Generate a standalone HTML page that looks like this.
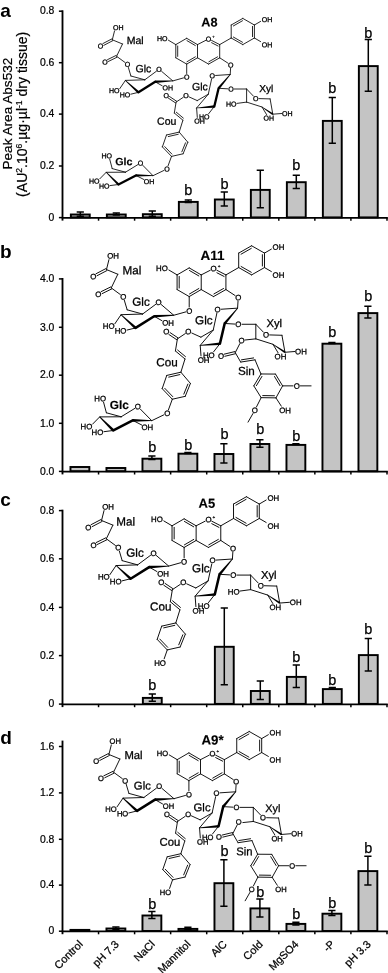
<!DOCTYPE html>
<html><head><meta charset="utf-8"><title>Figure</title><style>html,body{margin:0;padding:0;background:#fff}svg{display:block}</style></head><body>
<svg width="388" height="973" viewBox="0 0 388 973">
<rect width="388" height="973" fill="#fff"/>
<rect x="70.87" y="214.5" width="18.86" height="2.9" fill="#c4c4c4" stroke="#000" stroke-width="1.94"/>
<path d="M80.3 212V216.3M76.7 212H83.9M76.7 216.3H83.9" stroke="#000" stroke-width="1.5" fill="none"/>
<rect x="106.87" y="214.5" width="18.86" height="2.9" fill="#c4c4c4" stroke="#000" stroke-width="1.94"/>
<path d="M116.3 212.9V215M112.7 212.9H119.9M112.7 215H119.9" stroke="#000" stroke-width="1.5" fill="none"/>
<rect x="142.87" y="214.2" width="18.86" height="3.2" fill="#c4c4c4" stroke="#000" stroke-width="1.94"/>
<path d="M152.3 211V216.3M148.7 211H155.9M148.7 216.3H155.9" stroke="#000" stroke-width="1.5" fill="none"/>
<rect x="178.87" y="201.9" width="18.86" height="15.5" fill="#c4c4c4" stroke="#000" stroke-width="1.94"/>
<path d="M188.3 199.9V202.5M184.7 199.9H191.9M184.7 202.5H191.9" stroke="#000" stroke-width="1.5" fill="none"/>
<text x="188.2" y="195" font-size="14.5" text-anchor="middle" stroke="#000" stroke-width="0.25" font-family="Liberation Sans, Arial, Helvetica, sans-serif">b</text>
<rect x="214.87" y="199.5" width="18.86" height="17.9" fill="#c4c4c4" stroke="#000" stroke-width="1.94"/>
<path d="M224.3 192V205.9M220.7 192H227.9M220.7 205.9H227.9" stroke="#000" stroke-width="1.5" fill="none"/>
<text x="224.5" y="188.6" font-size="14.5" text-anchor="middle" stroke="#000" stroke-width="0.25" font-family="Liberation Sans, Arial, Helvetica, sans-serif">b</text>
<rect x="250.87" y="189.9" width="18.86" height="27.5" fill="#c4c4c4" stroke="#000" stroke-width="1.94"/>
<path d="M260.3 170.3V207.7M256.7 170.3H263.9M256.7 207.7H263.9" stroke="#000" stroke-width="1.5" fill="none"/>
<rect x="286.87" y="182.2" width="18.86" height="35.2" fill="#c4c4c4" stroke="#000" stroke-width="1.94"/>
<path d="M296.3 175.3V188.4M292.7 175.3H299.9M292.7 188.4H299.9" stroke="#000" stroke-width="1.5" fill="none"/>
<text x="296.2" y="170.3" font-size="14.5" text-anchor="middle" stroke="#000" stroke-width="0.25" font-family="Liberation Sans, Arial, Helvetica, sans-serif">b</text>
<rect x="322.87" y="120.9" width="18.86" height="96.5" fill="#c4c4c4" stroke="#000" stroke-width="1.94"/>
<path d="M332.3 97.4V143.3M328.7 97.4H335.9M328.7 143.3H335.9" stroke="#000" stroke-width="1.5" fill="none"/>
<text x="332.3" y="92.7" font-size="14.5" text-anchor="middle" stroke="#000" stroke-width="0.25" font-family="Liberation Sans, Arial, Helvetica, sans-serif">b</text>
<rect x="358.87" y="66.1" width="18.86" height="151.3" fill="#c4c4c4" stroke="#000" stroke-width="1.94"/>
<path d="M368.3 39.5V91.3M364.7 39.5H371.9M364.7 91.3H371.9" stroke="#000" stroke-width="1.5" fill="none"/>
<text x="368.4" y="37.6" font-size="14.5" text-anchor="middle" stroke="#000" stroke-width="0.25" font-family="Liberation Sans, Arial, Helvetica, sans-serif">b</text>
<path d="M62.5 10.3V220.6" stroke="#000" stroke-width="1.85" fill="none"/>
<path d="M61.8 217.85H387.8" stroke="#000" stroke-width="1.8" fill="none"/>
<path d="M58.9 11.2H62.5" stroke="#000" stroke-width="1.5"/>
<text x="54.4" y="14.45" font-size="10.4" text-anchor="end" stroke="#000" stroke-width="0.22" font-family="Liberation Sans, Arial, Helvetica, sans-serif">0.8</text>
<path d="M58.9 62.7H62.5" stroke="#000" stroke-width="1.5"/>
<text x="54.4" y="65.95" font-size="10.4" text-anchor="end" stroke="#000" stroke-width="0.22" font-family="Liberation Sans, Arial, Helvetica, sans-serif">0.6</text>
<path d="M58.9 114.1H62.5" stroke="#000" stroke-width="1.5"/>
<text x="54.4" y="117.35" font-size="10.4" text-anchor="end" stroke="#000" stroke-width="0.22" font-family="Liberation Sans, Arial, Helvetica, sans-serif">0.4</text>
<path d="M58.9 166H62.5" stroke="#000" stroke-width="1.5"/>
<text x="54.4" y="169.25" font-size="10.4" text-anchor="end" stroke="#000" stroke-width="0.22" font-family="Liberation Sans, Arial, Helvetica, sans-serif">0.2</text>
<path d="M58.9 217.6H62.5" stroke="#000" stroke-width="1.5"/>
<text x="54.4" y="220.85" font-size="10.4" text-anchor="end" stroke="#000" stroke-width="0.22" font-family="Liberation Sans, Arial, Helvetica, sans-serif">0</text>
<path d="M98.55 217.4V220.7" stroke="#000" stroke-width="1.5"/>
<path d="M134.6 217.4V220.7" stroke="#000" stroke-width="1.5"/>
<path d="M170.65 217.4V220.7" stroke="#000" stroke-width="1.5"/>
<path d="M206.7 217.4V220.7" stroke="#000" stroke-width="1.5"/>
<path d="M242.75 217.4V220.7" stroke="#000" stroke-width="1.5"/>
<path d="M278.8 217.4V220.7" stroke="#000" stroke-width="1.5"/>
<path d="M314.85 217.4V220.7" stroke="#000" stroke-width="1.5"/>
<path d="M350.9 217.4V220.7" stroke="#000" stroke-width="1.5"/>
<path d="M387 217.4V220.7" stroke="#000" stroke-width="1.5"/>
<text x="0.2" y="17.2" font-size="19" font-weight="bold" font-family="Liberation Sans, Arial, Helvetica, sans-serif">a</text>
<rect x="70.47" y="467" width="18.86" height="4.2" fill="#c4c4c4" stroke="#000" stroke-width="1.94"/>
<rect x="106.47" y="468" width="18.86" height="3.2" fill="#c4c4c4" stroke="#000" stroke-width="1.94"/>
<rect x="142.47" y="458.7" width="18.86" height="12.5" fill="#c4c4c4" stroke="#000" stroke-width="1.94"/>
<path d="M151.9 455.9V459.6M148.3 455.9H155.5M148.3 459.6H155.5" stroke="#000" stroke-width="1.5" fill="none"/>
<text x="152.4" y="451.9" font-size="14.5" text-anchor="middle" stroke="#000" stroke-width="0.25" font-family="Liberation Sans, Arial, Helvetica, sans-serif">b</text>
<rect x="178.47" y="453.7" width="18.86" height="17.5" fill="#c4c4c4" stroke="#000" stroke-width="1.94"/>
<path d="M187.9 452.6V453.4M184.3 452.6H191.5M184.3 453.4H191.5" stroke="#000" stroke-width="1.5" fill="none"/>
<text x="188.2" y="450.3" font-size="14.5" text-anchor="middle" stroke="#000" stroke-width="0.25" font-family="Liberation Sans, Arial, Helvetica, sans-serif">b</text>
<rect x="214.47" y="454" width="18.86" height="17.2" fill="#c4c4c4" stroke="#000" stroke-width="1.94"/>
<path d="M223.9 443.7V463M220.3 443.7H227.5M220.3 463H227.5" stroke="#000" stroke-width="1.5" fill="none"/>
<text x="224.5" y="439.4" font-size="14.5" text-anchor="middle" stroke="#000" stroke-width="0.25" font-family="Liberation Sans, Arial, Helvetica, sans-serif">b</text>
<rect x="250.47" y="444" width="18.86" height="27.2" fill="#c4c4c4" stroke="#000" stroke-width="1.94"/>
<path d="M259.9 439.8V447.2M256.3 439.8H263.5M256.3 447.2H263.5" stroke="#000" stroke-width="1.5" fill="none"/>
<text x="260.4" y="434" font-size="14.5" text-anchor="middle" stroke="#000" stroke-width="0.25" font-family="Liberation Sans, Arial, Helvetica, sans-serif">b</text>
<rect x="286.47" y="444.9" width="18.86" height="26.3" fill="#c4c4c4" stroke="#000" stroke-width="1.94"/>
<path d="M295.9 443.8V444.6M292.3 443.8H299.5M292.3 444.6H299.5" stroke="#000" stroke-width="1.5" fill="none"/>
<text x="296.2" y="440.6" font-size="14.5" text-anchor="middle" stroke="#000" stroke-width="0.25" font-family="Liberation Sans, Arial, Helvetica, sans-serif">b</text>
<rect x="322.47" y="343.7" width="18.86" height="127.5" fill="#c4c4c4" stroke="#000" stroke-width="1.94"/>
<path d="M331.9 342.5V343.5M328.3 342.5H335.5M328.3 343.5H335.5" stroke="#000" stroke-width="1.5" fill="none"/>
<text x="332.3" y="337.4" font-size="14.5" text-anchor="middle" stroke="#000" stroke-width="0.25" font-family="Liberation Sans, Arial, Helvetica, sans-serif">b</text>
<rect x="358.47" y="313.1" width="18.86" height="158.1" fill="#c4c4c4" stroke="#000" stroke-width="1.94"/>
<path d="M367.9 306.2V317.9M364.3 306.2H371.5M364.3 317.9H371.5" stroke="#000" stroke-width="1.5" fill="none"/>
<text x="368.4" y="301.2" font-size="14.5" text-anchor="middle" stroke="#000" stroke-width="0.25" font-family="Liberation Sans, Arial, Helvetica, sans-serif">b</text>
<path d="M62.5 278V474.4" stroke="#000" stroke-width="1.85" fill="none"/>
<path d="M61.8 471.65H387.8" stroke="#000" stroke-width="1.8" fill="none"/>
<path d="M58.9 278.9H62.5" stroke="#000" stroke-width="1.5"/>
<text x="54.4" y="282.15" font-size="10.4" text-anchor="end" stroke="#000" stroke-width="0.22" font-family="Liberation Sans, Arial, Helvetica, sans-serif">4.0</text>
<path d="M58.9 327.3H62.5" stroke="#000" stroke-width="1.5"/>
<text x="54.4" y="330.55" font-size="10.4" text-anchor="end" stroke="#000" stroke-width="0.22" font-family="Liberation Sans, Arial, Helvetica, sans-serif">3.0</text>
<path d="M58.9 375.2H62.5" stroke="#000" stroke-width="1.5"/>
<text x="54.4" y="378.45" font-size="10.4" text-anchor="end" stroke="#000" stroke-width="0.22" font-family="Liberation Sans, Arial, Helvetica, sans-serif">2.0</text>
<path d="M58.9 423.3H62.5" stroke="#000" stroke-width="1.5"/>
<text x="54.4" y="426.55" font-size="10.4" text-anchor="end" stroke="#000" stroke-width="0.22" font-family="Liberation Sans, Arial, Helvetica, sans-serif">1.0</text>
<path d="M58.9 471.4H62.5" stroke="#000" stroke-width="1.5"/>
<text x="54.4" y="474.65" font-size="10.4" text-anchor="end" stroke="#000" stroke-width="0.22" font-family="Liberation Sans, Arial, Helvetica, sans-serif">0.0</text>
<path d="M98.55 471.2V474.5" stroke="#000" stroke-width="1.5"/>
<path d="M134.6 471.2V474.5" stroke="#000" stroke-width="1.5"/>
<path d="M170.65 471.2V474.5" stroke="#000" stroke-width="1.5"/>
<path d="M206.7 471.2V474.5" stroke="#000" stroke-width="1.5"/>
<path d="M242.75 471.2V474.5" stroke="#000" stroke-width="1.5"/>
<path d="M278.8 471.2V474.5" stroke="#000" stroke-width="1.5"/>
<path d="M314.85 471.2V474.5" stroke="#000" stroke-width="1.5"/>
<path d="M350.9 471.2V474.5" stroke="#000" stroke-width="1.5"/>
<path d="M387 471.2V474.5" stroke="#000" stroke-width="1.5"/>
<text x="0.0" y="257.7" font-size="19" font-weight="bold" font-family="Liberation Sans, Arial, Helvetica, sans-serif">b</text>
<rect x="142.87" y="697.9" width="18.86" height="6" fill="#c4c4c4" stroke="#000" stroke-width="1.94"/>
<path d="M152.3 694V701.2M148.7 694H155.9M148.7 701.2H155.9" stroke="#000" stroke-width="1.5" fill="none"/>
<text x="152.4" y="689.6" font-size="14.5" text-anchor="middle" stroke="#000" stroke-width="0.25" font-family="Liberation Sans, Arial, Helvetica, sans-serif">b</text>
<rect x="214.87" y="646.8" width="18.86" height="57.1" fill="#c4c4c4" stroke="#000" stroke-width="1.94"/>
<path d="M224.3 607.9V684.7M220.7 607.9H227.9M220.7 684.7H227.9" stroke="#000" stroke-width="1.5" fill="none"/>
<rect x="250.87" y="691" width="18.86" height="12.9" fill="#c4c4c4" stroke="#000" stroke-width="1.94"/>
<path d="M260.3 681.1V699.5M256.7 681.1H263.9M256.7 699.5H263.9" stroke="#000" stroke-width="1.5" fill="none"/>
<rect x="286.87" y="676.9" width="18.86" height="27" fill="#c4c4c4" stroke="#000" stroke-width="1.94"/>
<path d="M296.3 665.1V687.4M292.7 665.1H299.9M292.7 687.4H299.9" stroke="#000" stroke-width="1.5" fill="none"/>
<text x="296.2" y="662.2" font-size="14.5" text-anchor="middle" stroke="#000" stroke-width="0.25" font-family="Liberation Sans, Arial, Helvetica, sans-serif">b</text>
<rect x="322.87" y="689.1" width="18.86" height="14.8" fill="#c4c4c4" stroke="#000" stroke-width="1.94"/>
<path d="M332.3 687.6V689.2M328.7 687.6H335.9M328.7 689.2H335.9" stroke="#000" stroke-width="1.5" fill="none"/>
<text x="332.3" y="685" font-size="14.5" text-anchor="middle" stroke="#000" stroke-width="0.25" font-family="Liberation Sans, Arial, Helvetica, sans-serif">b</text>
<rect x="358.87" y="655.1" width="18.86" height="48.8" fill="#c4c4c4" stroke="#000" stroke-width="1.94"/>
<path d="M368.3 638.4V670.9M364.7 638.4H371.9M364.7 670.9H371.9" stroke="#000" stroke-width="1.5" fill="none"/>
<text x="368.4" y="633.6" font-size="14.5" text-anchor="middle" stroke="#000" stroke-width="0.25" font-family="Liberation Sans, Arial, Helvetica, sans-serif">b</text>
<path d="M62.5 509.7V707.1" stroke="#000" stroke-width="1.85" fill="none"/>
<path d="M61.8 704.35H387.8" stroke="#000" stroke-width="1.8" fill="none"/>
<path d="M58.9 510.6H62.5" stroke="#000" stroke-width="1.5"/>
<text x="54.4" y="513.85" font-size="10.4" text-anchor="end" stroke="#000" stroke-width="0.22" font-family="Liberation Sans, Arial, Helvetica, sans-serif">0.8</text>
<path d="M58.9 558.8H62.5" stroke="#000" stroke-width="1.5"/>
<text x="54.4" y="562.05" font-size="10.4" text-anchor="end" stroke="#000" stroke-width="0.22" font-family="Liberation Sans, Arial, Helvetica, sans-serif">0.6</text>
<path d="M58.9 607.4H62.5" stroke="#000" stroke-width="1.5"/>
<text x="54.4" y="610.65" font-size="10.4" text-anchor="end" stroke="#000" stroke-width="0.22" font-family="Liberation Sans, Arial, Helvetica, sans-serif">0.4</text>
<path d="M58.9 655.6H62.5" stroke="#000" stroke-width="1.5"/>
<text x="54.4" y="658.85" font-size="10.4" text-anchor="end" stroke="#000" stroke-width="0.22" font-family="Liberation Sans, Arial, Helvetica, sans-serif">0.2</text>
<path d="M58.9 704.1H62.5" stroke="#000" stroke-width="1.5"/>
<text x="54.4" y="707.35" font-size="10.4" text-anchor="end" stroke="#000" stroke-width="0.22" font-family="Liberation Sans, Arial, Helvetica, sans-serif">0</text>
<path d="M98.55 703.9V707.2" stroke="#000" stroke-width="1.5"/>
<path d="M134.6 703.9V707.2" stroke="#000" stroke-width="1.5"/>
<path d="M170.65 703.9V707.2" stroke="#000" stroke-width="1.5"/>
<path d="M206.7 703.9V707.2" stroke="#000" stroke-width="1.5"/>
<path d="M242.75 703.9V707.2" stroke="#000" stroke-width="1.5"/>
<path d="M278.8 703.9V707.2" stroke="#000" stroke-width="1.5"/>
<path d="M314.85 703.9V707.2" stroke="#000" stroke-width="1.5"/>
<path d="M350.9 703.9V707.2" stroke="#000" stroke-width="1.5"/>
<path d="M387 703.9V707.2" stroke="#000" stroke-width="1.5"/>
<text x="0.2" y="506.0" font-size="19" font-weight="bold" font-family="Liberation Sans, Arial, Helvetica, sans-serif">c</text>
<rect x="70.47" y="929.9" width="18.86" height="1.1" fill="#c4c4c4" stroke="#000" stroke-width="1.94"/>
<rect x="106.47" y="928.5" width="18.86" height="2.5" fill="#c4c4c4" stroke="#000" stroke-width="1.94"/>
<path d="M115.9 926.9V929.3M112.3 926.9H119.5M112.3 929.3H119.5" stroke="#000" stroke-width="1.5" fill="none"/>
<rect x="142.47" y="915.5" width="18.86" height="15.5" fill="#c4c4c4" stroke="#000" stroke-width="1.94"/>
<path d="M151.9 911.5V918.6M148.3 911.5H155.5M148.3 918.6H155.5" stroke="#000" stroke-width="1.5" fill="none"/>
<text x="152.4" y="908.7" font-size="14.5" text-anchor="middle" stroke="#000" stroke-width="0.25" font-family="Liberation Sans, Arial, Helvetica, sans-serif">b</text>
<rect x="178.47" y="928.9" width="18.86" height="2.1" fill="#c4c4c4" stroke="#000" stroke-width="1.94"/>
<path d="M187.9 927.3V929.6M184.3 927.3H191.5M184.3 929.6H191.5" stroke="#000" stroke-width="1.5" fill="none"/>
<rect x="214.47" y="883.2" width="18.86" height="47.8" fill="#c4c4c4" stroke="#000" stroke-width="1.94"/>
<path d="M223.9 859.7V906.2M220.3 859.7H227.5M220.3 906.2H227.5" stroke="#000" stroke-width="1.5" fill="none"/>
<text x="224.5" y="856.3" font-size="14.5" text-anchor="middle" stroke="#000" stroke-width="0.25" font-family="Liberation Sans, Arial, Helvetica, sans-serif">b</text>
<rect x="250.47" y="908.4" width="18.86" height="22.6" fill="#c4c4c4" stroke="#000" stroke-width="1.94"/>
<path d="M259.9 899V916.9M256.3 899H263.5M256.3 916.9H263.5" stroke="#000" stroke-width="1.5" fill="none"/>
<text x="260.4" y="896.6" font-size="14.5" text-anchor="middle" stroke="#000" stroke-width="0.25" font-family="Liberation Sans, Arial, Helvetica, sans-serif">b</text>
<rect x="286.47" y="923.9" width="18.86" height="7.1" fill="#c4c4c4" stroke="#000" stroke-width="1.94"/>
<path d="M295.9 922.2V925.1M292.3 922.2H299.5M292.3 925.1H299.5" stroke="#000" stroke-width="1.5" fill="none"/>
<text x="296.2" y="919.3" font-size="14.5" text-anchor="middle" stroke="#000" stroke-width="0.25" font-family="Liberation Sans, Arial, Helvetica, sans-serif">b</text>
<rect x="322.47" y="913.7" width="18.86" height="17.3" fill="#c4c4c4" stroke="#000" stroke-width="1.94"/>
<path d="M331.9 910.6V915.4M328.3 910.6H335.5M328.3 915.4H335.5" stroke="#000" stroke-width="1.5" fill="none"/>
<text x="332.3" y="908.2" font-size="14.5" text-anchor="middle" stroke="#000" stroke-width="0.25" font-family="Liberation Sans, Arial, Helvetica, sans-serif">b</text>
<rect x="358.47" y="871.1" width="18.86" height="59.9" fill="#c4c4c4" stroke="#000" stroke-width="1.94"/>
<path d="M367.9 856.3V884.9M364.3 856.3H371.5M364.3 884.9H371.5" stroke="#000" stroke-width="1.5" fill="none"/>
<text x="368.4" y="853" font-size="14.5" text-anchor="middle" stroke="#000" stroke-width="0.25" font-family="Liberation Sans, Arial, Helvetica, sans-serif">b</text>
<path d="M62.5 740.6V934.2" stroke="#000" stroke-width="1.85" fill="none"/>
<path d="M61.8 931.45H387.8" stroke="#000" stroke-width="1.8" fill="none"/>
<path d="M58.9 746.5H62.5" stroke="#000" stroke-width="1.5"/>
<text x="54.4" y="749.75" font-size="10.4" text-anchor="end" stroke="#000" stroke-width="0.22" font-family="Liberation Sans, Arial, Helvetica, sans-serif">1.6</text>
<path d="M58.9 792.9H62.5" stroke="#000" stroke-width="1.5"/>
<text x="54.4" y="796.15" font-size="10.4" text-anchor="end" stroke="#000" stroke-width="0.22" font-family="Liberation Sans, Arial, Helvetica, sans-serif">1.2</text>
<path d="M58.9 839.3H62.5" stroke="#000" stroke-width="1.5"/>
<text x="54.4" y="842.55" font-size="10.4" text-anchor="end" stroke="#000" stroke-width="0.22" font-family="Liberation Sans, Arial, Helvetica, sans-serif">0.8</text>
<path d="M58.9 885.1H62.5" stroke="#000" stroke-width="1.5"/>
<text x="54.4" y="888.35" font-size="10.4" text-anchor="end" stroke="#000" stroke-width="0.22" font-family="Liberation Sans, Arial, Helvetica, sans-serif">0.4</text>
<path d="M58.9 931.2H62.5" stroke="#000" stroke-width="1.5"/>
<text x="54.4" y="934.45" font-size="10.4" text-anchor="end" stroke="#000" stroke-width="0.22" font-family="Liberation Sans, Arial, Helvetica, sans-serif">0</text>
<path d="M98.55 931V934.3" stroke="#000" stroke-width="1.5"/>
<path d="M134.6 931V934.3" stroke="#000" stroke-width="1.5"/>
<path d="M170.65 931V934.3" stroke="#000" stroke-width="1.5"/>
<path d="M206.7 931V934.3" stroke="#000" stroke-width="1.5"/>
<path d="M242.75 931V934.3" stroke="#000" stroke-width="1.5"/>
<path d="M278.8 931V934.3" stroke="#000" stroke-width="1.5"/>
<path d="M314.85 931V934.3" stroke="#000" stroke-width="1.5"/>
<path d="M350.9 931V934.3" stroke="#000" stroke-width="1.5"/>
<path d="M387 931V934.3" stroke="#000" stroke-width="1.5"/>
<text x="0.2" y="744.3" font-size="19" font-weight="bold" font-family="Liberation Sans, Arial, Helvetica, sans-serif">d</text>
<text transform="translate(12.4,113.6) rotate(-90)" font-size="13.6" text-anchor="middle" stroke="#000" stroke-width="0.2" font-family="Liberation Sans, Arial, Helvetica, sans-serif">Peak Area Abs532</text>
<text transform="translate(27.0,114.3) rotate(-90)" font-size="14.05" text-anchor="middle" stroke="#000" stroke-width="0.2" font-family="Liberation Sans, Arial, Helvetica, sans-serif">(AU<tspan font-size="8.5" dy="-5">2</tspan><tspan dy="5">.10</tspan><tspan font-size="8.5" dy="-5">6</tspan><tspan dy="5">.µg·µl</tspan><tspan font-size="8.5" dy="-5">-1</tspan><tspan dy="5"> dry tissue)</tspan></text>
<text transform="translate(83.4,944.9) rotate(-45)" font-size="10.85" text-anchor="end" stroke="#000" stroke-width="0.25" font-family="Liberation Sans, Arial, Helvetica, sans-serif">Control</text>
<text transform="translate(119.6,944.9) rotate(-45)" font-size="10.85" text-anchor="end" stroke="#000" stroke-width="0.25" font-family="Liberation Sans, Arial, Helvetica, sans-serif">pH 7.3</text>
<text transform="translate(155.4,944.9) rotate(-45)" font-size="10.85" text-anchor="end" stroke="#000" stroke-width="0.25" font-family="Liberation Sans, Arial, Helvetica, sans-serif">NaCl</text>
<text transform="translate(191.2,944.9) rotate(-45)" font-size="10.85" text-anchor="end" stroke="#000" stroke-width="0.25" font-family="Liberation Sans, Arial, Helvetica, sans-serif">Mannitol</text>
<text transform="translate(227.5,944.9) rotate(-45)" font-size="10.85" text-anchor="end" stroke="#000" stroke-width="0.25" font-family="Liberation Sans, Arial, Helvetica, sans-serif">AlC</text>
<text transform="translate(263.4,944.9) rotate(-45)" font-size="10.85" text-anchor="end" stroke="#000" stroke-width="0.25" font-family="Liberation Sans, Arial, Helvetica, sans-serif">Cold</text>
<text transform="translate(299.2,944.9) rotate(-45)" font-size="10.85" text-anchor="end" stroke="#000" stroke-width="0.25" font-family="Liberation Sans, Arial, Helvetica, sans-serif">MgSO4</text>
<text transform="translate(335.3,944.9) rotate(-45)" font-size="10.85" text-anchor="end" stroke="#000" stroke-width="0.25" font-family="Liberation Sans, Arial, Helvetica, sans-serif">-P</text>
<text transform="translate(371.4,944.9) rotate(-45)" font-size="10.85" text-anchor="end" stroke="#000" stroke-width="0.25" font-family="Liberation Sans, Arial, Helvetica, sans-serif">pH 3.3</text>
<path d="M112.3 39.8L114.53 30.89M111.84 38.91L102.86 43.59M112.76 40.69L103.79 45.36M112.3 39.8L122.5 44M122.5 44L116.6 56.3M116.16 55.4L107.52 59.65M117.04 57.2L108.4 61.44M116.6 56.3L124.82 62.31M128.37 67.46L130.9 76M130.9 76L144.8 79.8M125.4 80.4L144.8 79.8M144.8 79.8L156.53 71.11M161.61 71.34L172.8 80.9M155.2 81.8L162.2 85.8M138.5 92.3L130.8 94.2M125.4 80.4L119.8 88.6M172.8 80.9L183.52 77.89M175.8 44.6L186.7 38.3M186.7 38.3L197.5 44.6M197.5 44.6L197.5 57.8M197.5 57.8L186.7 64.1M186.7 64.1L175.8 57.8M175.8 57.8L175.8 44.6M177.7 56.4L177.7 46M186.95 40.65L195.33 45.54M195.33 56.86L186.95 61.75M197.5 44.6L205.66 40.41M211.54 40.41L219.7 44.6M219.7 44.6L219.7 57.8M219.7 57.8L208.6 64.1M208.6 64.1L197.5 57.8M217.54 56.84L208.88 61.76M211.6 42.69L218.07 46.01M175.8 44.6L168.4 40.2M186.7 64.1L186.7 73.5M219.7 57.8L228.03 63.2M219.7 44.6L231.2 38M231.2 38L242.8 44.6M242.8 44.6L254.4 38M254.4 38L254.4 25M254.4 25L242.8 18.4M242.8 18.4L231.2 25M231.2 25L231.2 38M233.36 25.96L242.52 20.74M252.5 26.4L252.5 36.6M242.52 42.26L233.36 37.04M254.4 25L260.6 21.4M254.4 38L260.6 41.6M230.59 68.39L230.2 74.5M230.2 74.5L215.59 75.48M211.58 79.02L208.3 94.2M208.3 94.2L196.6 108M208.3 94.2L197.2 100.6M218.6 88.3L227.61 88.81M214.3 106.5L208.6 113.8M196.6 108L197.3 117.4M197.2 100.6L189 96.87M234.2 89L246.6 89M246.6 89L253.42 96.12M259 98.59L270.1 98.9M270.1 98.9L272.8 114.2M246.6 89L246.6 102.1M246.6 102.1L262 107M262 107L266.6 114.6M272.8 114.2L281.6 113.5M246.6 102.1L237 103.4M183.25 97.33L176.1 102.1M176.65 101.27L169.5 96.5M175.55 102.93L168.39 98.16M176.1 102.1L174.3 113M174.3 113L182.9 120.2M176.29 112.19L183.35 118.1M182.9 120.2L179.2 132.1M179.2 132.1L187.8 142.2M187.8 142.2L183.1 153.8M183.1 153.8L171.5 156.4M171.5 156.4L162.4 146.9M162.4 146.9L166.5 135M166.5 135L179.2 132.1M168.29 136.54L178.26 134.26M185.51 142.78L181.86 151.79M171.9 154.07L164.74 146.6M171.5 156.4L168.07 165.81M163.84 170.48L153 175.7M153 175.7L142.81 165.35M137.69 164.73L125.5 172.2M125.5 172.2L106.2 172.3M125.5 172.2L112.2 168.6M112.2 168.6L109.7 159.2M106.2 172.3L99.8 178.8M118.5 184.5L110 185.6M135.9 175.4L144 179.6" stroke="#111" stroke-width="0.9" fill="none" stroke-linecap="round"/>
<path d="M138.5 92.3L155.2 81.8M218.6 88.3L214.3 106.5M118.5 184.5L135.9 175.4" stroke="#000" stroke-width="2.3" fill="none" stroke-linecap="round"/>
<polygon points="125.64,80.13 125.16,80.67 137.69,93.19 139.31,91.41" fill="#000"/><polygon points="172.82,81.26 172.78,80.54 155.14,80.6 155.26,83" fill="#000"/><polygon points="230.48,74.73 229.92,74.27 217.68,87.53 219.52,89.07" fill="#000"/><polygon points="196.57,107.64 196.63,108.36 214.4,107.7 214.2,105.3" fill="#000"/><polygon points="262.14,106.79 261.86,107.21 272.33,114.91 273.27,113.49" fill="#000"/><polygon points="106.45,172.04 105.95,172.56 117.65,185.35 119.35,183.65" fill="#000"/><polygon points="152.99,176.06 153.01,175.34 135.92,174.2 135.88,176.6" fill="#000"/>
<text transform="rotate(0.05 118.2 27.4)" x="118.2" y="29.92" font-size="7.05" text-anchor="middle" stroke="#000" stroke-width="0.3" font-family="Liberation Sans, Arial, Helvetica, sans-serif">OH</text><text transform="rotate(0.05 100.4 46)" x="100.4" y="48.52" font-size="7.05" text-anchor="middle" stroke="#000" stroke-width="0.3" font-family="Liberation Sans, Arial, Helvetica, sans-serif">O</text><text transform="rotate(0.05 105 62)" x="105" y="64.52" font-size="7.05" text-anchor="middle" stroke="#000" stroke-width="0.3" font-family="Liberation Sans, Arial, Helvetica, sans-serif">O</text><text transform="rotate(0.05 127.4 64.2)" x="127.4" y="66.72" font-size="7.05" text-anchor="middle" stroke="#000" stroke-width="0.3" font-family="Liberation Sans, Arial, Helvetica, sans-serif">O</text><text transform="rotate(0.05 159.1 69.2)" x="159.1" y="71.72" font-size="7.05" text-anchor="middle" stroke="#000" stroke-width="0.3" font-family="Liberation Sans, Arial, Helvetica, sans-serif">O</text><text transform="rotate(0.05 167.7 87.7)" x="167.7" y="90.22" font-size="7.05" text-anchor="middle" stroke="#000" stroke-width="0.3" font-family="Liberation Sans, Arial, Helvetica, sans-serif">OH</text><text transform="rotate(0.05 125 94.8)" x="125" y="97.32" font-size="7.05" text-anchor="middle" stroke="#000" stroke-width="0.3" font-family="Liberation Sans, Arial, Helvetica, sans-serif">HO</text><text transform="rotate(0.05 114.3 90.5)" x="114.3" y="93.02" font-size="7.05" text-anchor="middle" stroke="#000" stroke-width="0.3" font-family="Liberation Sans, Arial, Helvetica, sans-serif">HO</text><text transform="rotate(0.05 186.7 77)" x="186.7" y="79.52" font-size="7.05" text-anchor="middle" stroke="#000" stroke-width="0.3" font-family="Liberation Sans, Arial, Helvetica, sans-serif">O</text><text transform="rotate(0.05 208.6 38.9)" x="208.6" y="41.42" font-size="7.05" text-anchor="middle" stroke="#000" stroke-width="0.3" font-family="Liberation Sans, Arial, Helvetica, sans-serif">O</text><text transform="rotate(0.05 212.3 38.2)" x="212.3" y="38.2" font-size="4.2" stroke="#000" stroke-width="0.2" font-family="Liberation Sans, Arial, Helvetica, sans-serif">+</text><text transform="rotate(0.05 162.2 38.6)" x="162.2" y="41.12" font-size="7.05" text-anchor="middle" stroke="#000" stroke-width="0.3" font-family="Liberation Sans, Arial, Helvetica, sans-serif">HO</text><text transform="rotate(0.05 230.8 65)" x="230.8" y="67.52" font-size="7.05" text-anchor="middle" stroke="#000" stroke-width="0.3" font-family="Liberation Sans, Arial, Helvetica, sans-serif">O</text><text transform="rotate(0.05 267 19.5)" x="267" y="22.02" font-size="7.05" text-anchor="middle" stroke="#000" stroke-width="0.3" font-family="Liberation Sans, Arial, Helvetica, sans-serif">OH</text><text transform="rotate(0.05 267 44.7)" x="267" y="47.22" font-size="7.05" text-anchor="middle" stroke="#000" stroke-width="0.3" font-family="Liberation Sans, Arial, Helvetica, sans-serif">OH</text><text transform="rotate(0.05 212.3 75.7)" x="212.3" y="78.22" font-size="7.05" text-anchor="middle" stroke="#000" stroke-width="0.3" font-family="Liberation Sans, Arial, Helvetica, sans-serif">O</text><text transform="rotate(0.05 230.9 89)" x="230.9" y="91.52" font-size="7.05" text-anchor="middle" stroke="#000" stroke-width="0.3" font-family="Liberation Sans, Arial, Helvetica, sans-serif">O</text><text transform="rotate(0.05 204.3 116.8)" x="204.3" y="119.32" font-size="7.05" text-anchor="middle" stroke="#000" stroke-width="0.3" font-family="Liberation Sans, Arial, Helvetica, sans-serif">HO</text><text transform="rotate(0.05 199.6 121)" x="199.6" y="123.52" font-size="7.05" text-anchor="middle" stroke="#000" stroke-width="0.3" font-family="Liberation Sans, Arial, Helvetica, sans-serif">OH</text><text transform="rotate(0.05 186 95.5)" x="186" y="98.02" font-size="7.05" text-anchor="middle" stroke="#000" stroke-width="0.3" font-family="Liberation Sans, Arial, Helvetica, sans-serif">O</text><text transform="rotate(0.05 255.7 98.5)" x="255.7" y="101.02" font-size="7.05" text-anchor="middle" stroke="#000" stroke-width="0.3" font-family="Liberation Sans, Arial, Helvetica, sans-serif">O</text><text transform="rotate(0.05 268.8 117.9)" x="268.8" y="120.42" font-size="7.05" text-anchor="middle" stroke="#000" stroke-width="0.3" font-family="Liberation Sans, Arial, Helvetica, sans-serif">OH</text><text transform="rotate(0.05 287.2 113.4)" x="287.2" y="115.92" font-size="7.05" text-anchor="middle" stroke="#000" stroke-width="0.3" font-family="Liberation Sans, Arial, Helvetica, sans-serif">OH</text><text transform="rotate(0.05 231.3 103.9)" x="231.3" y="106.42" font-size="7.05" text-anchor="middle" stroke="#000" stroke-width="0.3" font-family="Liberation Sans, Arial, Helvetica, sans-serif">HO</text><text transform="rotate(0.05 166.2 95.5)" x="166.2" y="98.02" font-size="7.05" text-anchor="middle" stroke="#000" stroke-width="0.3" font-family="Liberation Sans, Arial, Helvetica, sans-serif">O</text><text transform="rotate(0.05 166.9 169)" x="166.9" y="171.52" font-size="7.05" text-anchor="middle" stroke="#000" stroke-width="0.3" font-family="Liberation Sans, Arial, Helvetica, sans-serif">O</text><text transform="rotate(0.05 140.5 163)" x="140.5" y="165.52" font-size="7.05" text-anchor="middle" stroke="#000" stroke-width="0.3" font-family="Liberation Sans, Arial, Helvetica, sans-serif">O</text><text transform="rotate(0.05 106.7 155.7)" x="106.7" y="158.22" font-size="7.05" text-anchor="middle" stroke="#000" stroke-width="0.3" font-family="Liberation Sans, Arial, Helvetica, sans-serif">HO</text><text transform="rotate(0.05 94.3 180.9)" x="94.3" y="183.42" font-size="7.05" text-anchor="middle" stroke="#000" stroke-width="0.3" font-family="Liberation Sans, Arial, Helvetica, sans-serif">HO</text><text transform="rotate(0.05 104.2 186)" x="104.2" y="188.52" font-size="7.05" text-anchor="middle" stroke="#000" stroke-width="0.3" font-family="Liberation Sans, Arial, Helvetica, sans-serif">HO</text><text transform="rotate(0.05 149.1 181.6)" x="149.1" y="184.12" font-size="7.05" text-anchor="middle" stroke="#000" stroke-width="0.3" font-family="Liberation Sans, Arial, Helvetica, sans-serif">OH</text><text transform="rotate(0.05 115.3 165.3)" x="115.3" y="165.3" font-size="10.7" font-weight="bold" stroke="#000" stroke-width="0.15" font-family="Liberation Sans, Arial, Helvetica, sans-serif">Glc</text><text transform="rotate(0.05 201.3 26.6)" x="201.3" y="26.6" font-size="12.7" font-weight="bold" stroke="#000" stroke-width="0.15" font-family="Liberation Sans, Arial, Helvetica, sans-serif">A8</text><text transform="rotate(0.05 126.7 44)" x="126.7" y="44" font-size="10.5" stroke="#000" stroke-width="0.28" font-family="Liberation Sans, Arial, Helvetica, sans-serif">Mal</text><text transform="rotate(0.05 135.5 72.3)" x="135.5" y="72.3" font-size="10.5" stroke="#000" stroke-width="0.28" font-family="Liberation Sans, Arial, Helvetica, sans-serif">Glc</text><text transform="rotate(0.05 192 90.3)" x="192" y="90.3" font-size="10.5" stroke="#000" stroke-width="0.28" font-family="Liberation Sans, Arial, Helvetica, sans-serif">Glc</text><text transform="rotate(0.05 259.2 92)" x="259.2" y="92" font-size="10.1" stroke="#000" stroke-width="0.28" font-family="Liberation Sans, Arial, Helvetica, sans-serif">Xyl</text><text transform="rotate(0.05 157.1 124.7)" x="157.1" y="124.7" font-size="10.5" stroke="#000" stroke-width="0.28" font-family="Liberation Sans, Arial, Helvetica, sans-serif">Cou</text>
<path d="M106.48 269.56L108.95 259.65M105.96 268.57L95.99 273.77M106.99 270.54L97.01 275.74M106.48 269.56L117.82 274.23M117.82 274.23L111.26 287.91M110.77 286.91L101.16 291.63M111.75 288.9L102.14 293.62M111.26 287.91L120.4 294.59M124.34 300.32L127.16 309.81M127.16 309.81L142.62 314.04M121.04 314.7L142.62 314.04M142.62 314.04L155.66 304.37M161.31 304.63L173.75 315.26M154.18 316.26L161.97 320.71M135.61 327.94L127.05 330.05M121.04 314.7L114.82 323.82M173.75 315.26L185.68 311.92M177.09 274.9L189.21 267.89M189.21 267.89L201.22 274.9M201.22 274.9L201.22 289.57M201.22 289.57L189.21 296.58M189.21 296.58L177.09 289.57M177.09 289.57L177.09 274.9M179.2 288.02L179.2 276.45M189.49 270.5L198.81 275.94M198.81 288.53L189.49 293.97M201.22 274.9L210.3 270.23M216.83 270.23L225.91 274.9M225.91 274.9L225.91 289.57M225.91 289.57L213.56 296.58M213.56 296.58L201.22 289.57M223.51 288.5L213.87 293.97M216.9 272.77L224.1 276.47M177.09 274.9L168.86 270M189.21 296.58L189.21 307.03M225.91 289.57L235.17 295.58M225.91 274.9L238.69 267.56M238.69 267.56L251.59 274.9M251.59 274.9L264.49 267.56M264.49 267.56L264.49 253.1M264.49 253.1L251.59 245.76M251.59 245.76L238.69 253.1M238.69 253.1L238.69 267.56M241.09 254.17L251.29 248.37M262.38 254.66L262.38 266M251.29 272.29L241.09 266.49M264.49 253.1L271.39 249.1M264.49 267.56L271.39 271.56M238.01 301.35L237.58 308.14M237.58 308.14L221.34 309.23M216.88 313.17L213.23 330.05M213.23 330.05L200.22 345.4M213.23 330.05L200.89 337.17M224.68 323.49L234.7 324.06M219.9 343.73L213.56 351.85M200.22 345.4L201 355.85M200.89 337.17L191.77 333.02M242.03 324.27L255.82 324.27M255.82 324.27L263.4 332.18M269.61 334.93L281.95 335.28M281.95 335.28L284.95 352.29M255.82 324.27L255.82 338.84M255.82 338.84L272.94 344.28M272.94 344.28L278.06 352.74M284.95 352.29L294.74 351.51M255.82 338.84L245.01 340.01M239.81 343.66L235.25 352.62M234.99 351.54L224.32 354.13M235.51 353.7L224.84 356.29M235.25 352.62L240.7 362.08M240.7 362.08L255.04 359.85M241.47 359.82L253.62 357.93M255.04 359.85L260.93 373.97M260.93 373.97L275.5 374.09M275.5 374.09L282.62 385.87M282.62 385.87L275.95 397.88M275.95 397.88L261.16 397.66M261.16 397.66L253.82 385.87M253.82 385.87L260.93 373.97M256.43 385.62L261.95 376.39M274.5 376.51L280.01 385.63M274.42 395.75L262.75 395.57M282.62 385.87L293.07 385.87M300.41 385.87L311.09 385.87M275.95 397.88L281.28 406.11M261.16 397.66L256.52 406.85M252.95 413.51L248.04 422.12M185.38 333.53L177.42 338.84M178.04 337.91L170.08 332.61M176.81 339.76L168.85 334.46M177.42 338.84L175.42 350.96M175.42 350.96L184.98 358.96M177.63 350.05L185.49 356.63M184.98 358.96L180.87 372.2M180.87 372.2L190.43 383.43M190.43 383.43L185.21 396.33M185.21 396.33L172.31 399.22M172.31 399.22L162.19 388.65M162.19 388.65L166.75 375.42M166.75 375.42L180.87 372.2M168.74 377.13L179.82 374.6M187.89 384.08L183.83 394.09M172.76 396.63L164.79 388.32M172.31 399.22L168.49 409.68M163.79 414.87L151.74 420.68M151.74 420.68L140.41 409.17M134.71 408.47L121.16 416.79M121.16 416.79L99.69 416.9M121.16 416.79L106.37 412.78M106.37 412.78L103.59 402.33M99.69 416.9L92.58 424.13M113.37 430.46L103.92 431.69M132.72 420.34L141.73 425.02" stroke="#111" stroke-width="1" fill="none" stroke-linecap="round"/>
<path d="M135.61 327.94L154.18 316.26M224.68 323.49L219.9 343.73M113.37 430.46L132.72 420.34" stroke="#000" stroke-width="2.56" fill="none" stroke-linecap="round"/>
<polygon points="121.31,314.41 120.78,315 134.71,328.93 136.51,326.95" fill="#000"/><polygon points="173.77,315.66 173.73,314.86 154.11,314.93 154.25,317.59" fill="#000"/><polygon points="237.89,308.4 237.28,307.89 223.66,322.63 225.7,324.35" fill="#000"/><polygon points="200.19,345 200.25,345.79 220.01,345.06 219.79,342.4" fill="#000"/><polygon points="273.1,344.05 272.79,344.52 284.43,353.08 285.48,351.5" fill="#000"/><polygon points="99.98,416.61 99.41,417.18 112.43,431.41 114.31,429.52" fill="#000"/><polygon points="151.73,421.08 151.74,420.28 132.74,419.01 132.7,421.68" fill="#000"/>
<text transform="rotate(0.05 113.04 255.77)" x="113.04" y="258.58" font-size="7.84" text-anchor="middle" stroke="#000" stroke-width="0.3" font-family="Liberation Sans, Arial, Helvetica, sans-serif">OH</text><text transform="rotate(0.05 93.24 276.45)" x="93.24" y="279.26" font-size="7.84" text-anchor="middle" stroke="#000" stroke-width="0.3" font-family="Liberation Sans, Arial, Helvetica, sans-serif">O</text><text transform="rotate(0.05 98.36 294.24)" x="98.36" y="297.05" font-size="7.84" text-anchor="middle" stroke="#000" stroke-width="0.3" font-family="Liberation Sans, Arial, Helvetica, sans-serif">O</text><text transform="rotate(0.05 123.27 296.69)" x="123.27" y="299.5" font-size="7.84" text-anchor="middle" stroke="#000" stroke-width="0.3" font-family="Liberation Sans, Arial, Helvetica, sans-serif">O</text><text transform="rotate(0.05 158.52 302.25)" x="158.52" y="305.06" font-size="7.84" text-anchor="middle" stroke="#000" stroke-width="0.3" font-family="Liberation Sans, Arial, Helvetica, sans-serif">O</text><text transform="rotate(0.05 168.08 322.82)" x="168.08" y="325.63" font-size="7.84" text-anchor="middle" stroke="#000" stroke-width="0.3" font-family="Liberation Sans, Arial, Helvetica, sans-serif">OH</text><text transform="rotate(0.05 120.6 330.72)" x="120.6" y="333.52" font-size="7.84" text-anchor="middle" stroke="#000" stroke-width="0.3" font-family="Liberation Sans, Arial, Helvetica, sans-serif">HO</text><text transform="rotate(0.05 108.7 325.94)" x="108.7" y="328.74" font-size="7.84" text-anchor="middle" stroke="#000" stroke-width="0.3" font-family="Liberation Sans, Arial, Helvetica, sans-serif">HO</text><text transform="rotate(0.05 189.21 310.92)" x="189.21" y="313.73" font-size="7.84" text-anchor="middle" stroke="#000" stroke-width="0.3" font-family="Liberation Sans, Arial, Helvetica, sans-serif">O</text><text transform="rotate(0.05 213.56 268.56)" x="213.56" y="271.36" font-size="7.84" text-anchor="middle" stroke="#000" stroke-width="0.3" font-family="Liberation Sans, Arial, Helvetica, sans-serif">O</text><text transform="rotate(0.05 217.68 267.78)" x="217.68" y="267.78" font-size="4.67" stroke="#000" stroke-width="0.2" font-family="Liberation Sans, Arial, Helvetica, sans-serif">+</text><text transform="rotate(0.05 161.97 268.22)" x="161.97" y="271.03" font-size="7.84" text-anchor="middle" stroke="#000" stroke-width="0.3" font-family="Liberation Sans, Arial, Helvetica, sans-serif">HO</text><text transform="rotate(0.05 238.25 297.58)" x="238.25" y="300.39" font-size="7.84" text-anchor="middle" stroke="#000" stroke-width="0.3" font-family="Liberation Sans, Arial, Helvetica, sans-serif">O</text><text transform="rotate(0.05 278.5 246.98)" x="278.5" y="249.79" font-size="7.84" text-anchor="middle" stroke="#000" stroke-width="0.3" font-family="Liberation Sans, Arial, Helvetica, sans-serif">OH</text><text transform="rotate(0.05 278.5 275.01)" x="278.5" y="277.81" font-size="7.84" text-anchor="middle" stroke="#000" stroke-width="0.3" font-family="Liberation Sans, Arial, Helvetica, sans-serif">OH</text><text transform="rotate(0.05 217.68 309.48)" x="217.68" y="312.28" font-size="7.84" text-anchor="middle" stroke="#000" stroke-width="0.3" font-family="Liberation Sans, Arial, Helvetica, sans-serif">O</text><text transform="rotate(0.05 238.36 324.27)" x="238.36" y="327.07" font-size="7.84" text-anchor="middle" stroke="#000" stroke-width="0.3" font-family="Liberation Sans, Arial, Helvetica, sans-serif">O</text><text transform="rotate(0.05 208.78 355.18)" x="208.78" y="357.99" font-size="7.84" text-anchor="middle" stroke="#000" stroke-width="0.3" font-family="Liberation Sans, Arial, Helvetica, sans-serif">HO</text><text transform="rotate(0.05 203.56 359.85)" x="203.56" y="362.66" font-size="7.84" text-anchor="middle" stroke="#000" stroke-width="0.3" font-family="Liberation Sans, Arial, Helvetica, sans-serif">OH</text><text transform="rotate(0.05 188.43 331.5)" x="188.43" y="334.3" font-size="7.84" text-anchor="middle" stroke="#000" stroke-width="0.3" font-family="Liberation Sans, Arial, Helvetica, sans-serif">O</text><text transform="rotate(0.05 265.94 334.83)" x="265.94" y="337.64" font-size="7.84" text-anchor="middle" stroke="#000" stroke-width="0.3" font-family="Liberation Sans, Arial, Helvetica, sans-serif">O</text><text transform="rotate(0.05 280.51 356.4)" x="280.51" y="359.21" font-size="7.84" text-anchor="middle" stroke="#000" stroke-width="0.3" font-family="Liberation Sans, Arial, Helvetica, sans-serif">OH</text><text transform="rotate(0.05 300.97 351.4)" x="300.97" y="354.21" font-size="7.84" text-anchor="middle" stroke="#000" stroke-width="0.3" font-family="Liberation Sans, Arial, Helvetica, sans-serif">OH</text><text transform="rotate(0.05 241.47 340.39)" x="241.47" y="343.2" font-size="7.84" text-anchor="middle" stroke="#000" stroke-width="0.3" font-family="Liberation Sans, Arial, Helvetica, sans-serif">O</text><text transform="rotate(0.05 221.01 356.07)" x="221.01" y="358.88" font-size="7.84" text-anchor="middle" stroke="#000" stroke-width="0.3" font-family="Liberation Sans, Arial, Helvetica, sans-serif">O</text><text transform="rotate(0.05 296.74 385.87)" x="296.74" y="388.68" font-size="7.84" text-anchor="middle" stroke="#000" stroke-width="0.3" font-family="Liberation Sans, Arial, Helvetica, sans-serif">O</text><text transform="rotate(0.05 285.06 410.34)" x="285.06" y="413.14" font-size="7.84" text-anchor="middle" stroke="#000" stroke-width="0.3" font-family="Liberation Sans, Arial, Helvetica, sans-serif">OH</text><text transform="rotate(0.05 254.82 410.23)" x="254.82" y="413.03" font-size="7.84" text-anchor="middle" stroke="#000" stroke-width="0.3" font-family="Liberation Sans, Arial, Helvetica, sans-serif">O</text><text transform="rotate(0.05 237.92 374.98)" x="237.92" y="374.98" font-size="11.68" stroke="#000" stroke-width="0.28" font-family="Liberation Sans, Arial, Helvetica, sans-serif">Sin</text><text transform="rotate(0.05 166.41 331.5)" x="166.41" y="334.3" font-size="7.84" text-anchor="middle" stroke="#000" stroke-width="0.3" font-family="Liberation Sans, Arial, Helvetica, sans-serif">O</text><text transform="rotate(0.05 167.19 413.23)" x="167.19" y="416.03" font-size="7.84" text-anchor="middle" stroke="#000" stroke-width="0.3" font-family="Liberation Sans, Arial, Helvetica, sans-serif">O</text><text transform="rotate(0.05 137.84 406.56)" x="137.84" y="409.36" font-size="7.84" text-anchor="middle" stroke="#000" stroke-width="0.3" font-family="Liberation Sans, Arial, Helvetica, sans-serif">O</text><text transform="rotate(0.05 100.25 398.44)" x="100.25" y="401.24" font-size="7.84" text-anchor="middle" stroke="#000" stroke-width="0.3" font-family="Liberation Sans, Arial, Helvetica, sans-serif">HO</text><text transform="rotate(0.05 86.46 426.46)" x="86.46" y="429.27" font-size="7.84" text-anchor="middle" stroke="#000" stroke-width="0.3" font-family="Liberation Sans, Arial, Helvetica, sans-serif">HO</text><text transform="rotate(0.05 97.47 432.13)" x="97.47" y="434.94" font-size="7.84" text-anchor="middle" stroke="#000" stroke-width="0.3" font-family="Liberation Sans, Arial, Helvetica, sans-serif">HO</text><text transform="rotate(0.05 147.4 427.24)" x="147.4" y="430.05" font-size="7.84" text-anchor="middle" stroke="#000" stroke-width="0.3" font-family="Liberation Sans, Arial, Helvetica, sans-serif">OH</text><text transform="rotate(0.05 109.81 409.11)" x="109.81" y="409.11" font-size="11.9" font-weight="bold" stroke="#000" stroke-width="0.15" font-family="Liberation Sans, Arial, Helvetica, sans-serif">Glc</text><text transform="rotate(0.05 200.45 260.08)" x="200.45" y="260.08" font-size="13.5" font-weight="bold" stroke="#000" stroke-width="0.15" font-family="Liberation Sans, Arial, Helvetica, sans-serif">A11</text><text transform="rotate(0.05 122.49 274.23)" x="122.49" y="274.23" font-size="11.68" stroke="#000" stroke-width="0.28" font-family="Liberation Sans, Arial, Helvetica, sans-serif">Mal</text><text transform="rotate(0.05 132.28 305.7)" x="132.28" y="305.7" font-size="11.68" stroke="#000" stroke-width="0.28" font-family="Liberation Sans, Arial, Helvetica, sans-serif">Glc</text><text transform="rotate(0.05 195.1 324.21)" x="195.1" y="324.21" font-size="11.68" stroke="#000" stroke-width="0.28" font-family="Liberation Sans, Arial, Helvetica, sans-serif">Glc</text><text transform="rotate(0.05 266.43 327.1)" x="266.43" y="327.1" font-size="11.23" stroke="#000" stroke-width="0.28" font-family="Liberation Sans, Arial, Helvetica, sans-serif">Xyl</text><text transform="rotate(0.05 156.3 366.27)" x="156.3" y="366.27" font-size="11.68" stroke="#000" stroke-width="0.28" font-family="Liberation Sans, Arial, Helvetica, sans-serif">Cou</text>
<path d="M101.55 520.48L104.02 510.59M101.04 519.49L91.08 524.68M102.07 521.46L92.11 526.65M101.55 520.48L112.88 525.14M112.88 525.14L106.33 538.79M105.84 537.8L96.25 542.51M106.82 539.79L97.23 544.5M106.33 538.79L115.45 545.46M119.39 551.18L122.2 560.66M122.2 560.66L137.63 564.88M116.09 565.54L137.63 564.88M137.63 564.88L150.65 555.23M156.29 555.49L168.71 566.1M149.17 567.1L156.94 571.54M130.64 578.75L122.09 580.86M116.09 565.54L109.88 574.65M168.71 566.1L180.61 562.76M172.04 525.81L184.14 518.81M184.14 518.81L196.13 525.81M196.13 525.81L196.13 540.46M196.13 540.46L184.14 547.45M184.14 547.45L172.04 540.46M172.04 540.46L172.04 525.81M174.15 538.9L174.15 527.36M184.42 521.42L193.72 526.84M193.72 539.42L184.42 544.85M196.13 525.81L205.19 521.15M211.7 521.15L220.77 525.81M220.77 525.81L220.77 540.46M220.77 540.46L208.45 547.45M208.45 547.45L196.13 540.46M218.37 539.39L208.76 544.85M211.78 523.68L218.96 527.38M172.04 525.81L163.82 520.92M184.14 547.45L184.14 557.88M220.77 540.46L230.01 546.46M220.77 525.81L233.53 518.48M233.53 518.48L246.41 525.81M246.41 525.81L259.28 518.48M259.28 518.48L259.28 504.05M259.28 504.05L246.41 496.72M246.41 496.72L233.53 504.05M233.53 504.05L233.53 518.48M235.93 505.11L246.1 499.33M257.18 505.6L257.18 516.93M246.1 523.2L235.93 517.42M259.28 504.05L266.17 500.05M259.28 518.48L266.17 522.48M232.85 552.22L232.42 559M232.42 559L216.21 560.08M211.76 564.02L208.11 580.86M208.11 580.86L195.13 596.18M208.11 580.86L195.79 587.97M219.55 574.31L229.54 574.88M214.77 594.51L208.45 602.62M195.13 596.18L195.9 606.61M195.79 587.97L186.69 583.82M236.86 575.09L250.63 575.09M250.63 575.09L258.19 582.99M264.39 585.74L276.71 586.08M276.71 586.08L279.71 603.06M250.63 575.09L250.63 589.63M250.63 589.63L267.72 595.07M267.72 595.07L272.83 603.51M279.71 603.06L289.48 602.29M250.63 589.63L239.97 591.07M180.31 584.34L172.37 589.63M172.99 588.71L165.05 583.41M171.76 590.55L163.81 585.26M172.37 589.63L170.37 601.73M170.37 601.73L179.92 609.72M172.58 600.83L180.42 607.39M179.92 609.72L175.81 622.93M175.81 622.93L185.36 634.14M185.36 634.14L180.14 647.02M180.14 647.02L167.27 649.9M167.27 649.9L157.16 639.36M157.16 639.36L161.72 626.15M161.72 626.15L175.81 622.93M163.7 627.86L174.77 625.33M182.82 634.79L178.77 644.79M167.71 647.32L159.76 639.02M167.27 649.9L164.18 658.77" stroke="#111" stroke-width="1" fill="none" stroke-linecap="round"/>
<path d="M130.64 578.75L149.17 567.1M219.55 574.31L214.77 594.51" stroke="#000" stroke-width="2.55" fill="none" stroke-linecap="round"/>
<polygon points="116.36,565.25 115.83,565.84 129.74,579.74 131.53,577.77" fill="#000"/><polygon points="168.73,566.5 168.69,565.7 149.1,565.77 149.24,568.43" fill="#000"/><polygon points="232.73,559.25 232.12,558.74 218.53,573.46 220.57,575.17" fill="#000"/><polygon points="195.09,595.78 195.16,596.58 214.89,595.84 214.66,593.19" fill="#000"/><polygon points="267.88,594.83 267.56,595.31 279.18,603.85 280.23,602.28" fill="#000"/>
<text transform="rotate(0.05 108.1 506.71)" x="108.1" y="509.52" font-size="7.83" text-anchor="middle" stroke="#000" stroke-width="0.3" font-family="Liberation Sans, Arial, Helvetica, sans-serif">OH</text><text transform="rotate(0.05 88.34 527.36)" x="88.34" y="530.16" font-size="7.83" text-anchor="middle" stroke="#000" stroke-width="0.3" font-family="Liberation Sans, Arial, Helvetica, sans-serif">O</text><text transform="rotate(0.05 93.45 545.12)" x="93.45" y="547.92" font-size="7.83" text-anchor="middle" stroke="#000" stroke-width="0.3" font-family="Liberation Sans, Arial, Helvetica, sans-serif">O</text><text transform="rotate(0.05 118.31 547.56)" x="118.31" y="550.36" font-size="7.83" text-anchor="middle" stroke="#000" stroke-width="0.3" font-family="Liberation Sans, Arial, Helvetica, sans-serif">O</text><text transform="rotate(0.05 153.5 553.11)" x="153.5" y="555.91" font-size="7.83" text-anchor="middle" stroke="#000" stroke-width="0.3" font-family="Liberation Sans, Arial, Helvetica, sans-serif">O</text><text transform="rotate(0.05 163.05 573.65)" x="163.05" y="576.45" font-size="7.83" text-anchor="middle" stroke="#000" stroke-width="0.3" font-family="Liberation Sans, Arial, Helvetica, sans-serif">OH</text><text transform="rotate(0.05 115.65 581.53)" x="115.65" y="584.33" font-size="7.83" text-anchor="middle" stroke="#000" stroke-width="0.3" font-family="Liberation Sans, Arial, Helvetica, sans-serif">HO</text><text transform="rotate(0.05 103.77 576.75)" x="103.77" y="579.56" font-size="7.83" text-anchor="middle" stroke="#000" stroke-width="0.3" font-family="Liberation Sans, Arial, Helvetica, sans-serif">HO</text><text transform="rotate(0.05 184.14 561.77)" x="184.14" y="564.57" font-size="7.83" text-anchor="middle" stroke="#000" stroke-width="0.3" font-family="Liberation Sans, Arial, Helvetica, sans-serif">O</text><text transform="rotate(0.05 208.45 519.48)" x="208.45" y="522.28" font-size="7.83" text-anchor="middle" stroke="#000" stroke-width="0.3" font-family="Liberation Sans, Arial, Helvetica, sans-serif">O</text><text transform="rotate(0.05 212.55 518.7)" x="212.55" y="518.7" font-size="4.66" stroke="#000" stroke-width="0.2" font-family="Liberation Sans, Arial, Helvetica, sans-serif">+</text><text transform="rotate(0.05 156.94 519.15)" x="156.94" y="521.95" font-size="7.83" text-anchor="middle" stroke="#000" stroke-width="0.3" font-family="Liberation Sans, Arial, Helvetica, sans-serif">HO</text><text transform="rotate(0.05 233.09 548.45)" x="233.09" y="551.25" font-size="7.83" text-anchor="middle" stroke="#000" stroke-width="0.3" font-family="Liberation Sans, Arial, Helvetica, sans-serif">O</text><text transform="rotate(0.05 273.27 497.94)" x="273.27" y="500.75" font-size="7.83" text-anchor="middle" stroke="#000" stroke-width="0.3" font-family="Liberation Sans, Arial, Helvetica, sans-serif">OH</text><text transform="rotate(0.05 273.27 525.92)" x="273.27" y="528.72" font-size="7.83" text-anchor="middle" stroke="#000" stroke-width="0.3" font-family="Liberation Sans, Arial, Helvetica, sans-serif">OH</text><text transform="rotate(0.05 212.55 560.33)" x="212.55" y="563.13" font-size="7.83" text-anchor="middle" stroke="#000" stroke-width="0.3" font-family="Liberation Sans, Arial, Helvetica, sans-serif">O</text><text transform="rotate(0.05 233.2 575.09)" x="233.2" y="577.89" font-size="7.83" text-anchor="middle" stroke="#000" stroke-width="0.3" font-family="Liberation Sans, Arial, Helvetica, sans-serif">O</text><text transform="rotate(0.05 203.67 605.95)" x="203.67" y="608.75" font-size="7.83" text-anchor="middle" stroke="#000" stroke-width="0.3" font-family="Liberation Sans, Arial, Helvetica, sans-serif">HO</text><text transform="rotate(0.05 198.46 610.61)" x="198.46" y="613.41" font-size="7.83" text-anchor="middle" stroke="#000" stroke-width="0.3" font-family="Liberation Sans, Arial, Helvetica, sans-serif">OH</text><text transform="rotate(0.05 183.36 582.31)" x="183.36" y="585.11" font-size="7.83" text-anchor="middle" stroke="#000" stroke-width="0.3" font-family="Liberation Sans, Arial, Helvetica, sans-serif">O</text><text transform="rotate(0.05 260.73 585.63)" x="260.73" y="588.44" font-size="7.83" text-anchor="middle" stroke="#000" stroke-width="0.3" font-family="Liberation Sans, Arial, Helvetica, sans-serif">O</text><text transform="rotate(0.05 275.27 607.17)" x="275.27" y="609.97" font-size="7.83" text-anchor="middle" stroke="#000" stroke-width="0.3" font-family="Liberation Sans, Arial, Helvetica, sans-serif">OH</text><text transform="rotate(0.05 295.69 602.17)" x="295.69" y="604.98" font-size="7.83" text-anchor="middle" stroke="#000" stroke-width="0.3" font-family="Liberation Sans, Arial, Helvetica, sans-serif">OH</text><text transform="rotate(0.05 233.64 591.63)" x="233.64" y="594.43" font-size="7.83" text-anchor="middle" stroke="#000" stroke-width="0.3" font-family="Liberation Sans, Arial, Helvetica, sans-serif">HO</text><text transform="rotate(0.05 161.38 582.31)" x="161.38" y="585.11" font-size="7.83" text-anchor="middle" stroke="#000" stroke-width="0.3" font-family="Liberation Sans, Arial, Helvetica, sans-serif">O</text><text transform="rotate(0.05 160.05 662.89)" x="160.05" y="665.69" font-size="7.83" text-anchor="middle" stroke="#000" stroke-width="0.3" font-family="Liberation Sans, Arial, Helvetica, sans-serif">HO</text><text transform="rotate(0.05 198.54 507.73)" x="198.54" y="507.73" font-size="13" font-weight="bold" stroke="#000" stroke-width="0.15" font-family="Liberation Sans, Arial, Helvetica, sans-serif">A5</text><text transform="rotate(0.05 116.34 525.44)" x="116.34" y="525.44" font-size="11.66" stroke="#000" stroke-width="0.28" font-family="Liberation Sans, Arial, Helvetica, sans-serif">Mal</text><text transform="rotate(0.05 126.31 556.85)" x="126.31" y="556.85" font-size="11.66" stroke="#000" stroke-width="0.28" font-family="Liberation Sans, Arial, Helvetica, sans-serif">Glc</text><text transform="rotate(0.05 192.12 572.13)" x="192.12" y="572.13" font-size="11.66" stroke="#000" stroke-width="0.28" font-family="Liberation Sans, Arial, Helvetica, sans-serif">Glc</text><text transform="rotate(0.05 261.01 578.72)" x="261.01" y="578.72" font-size="11.21" stroke="#000" stroke-width="0.28" font-family="Liberation Sans, Arial, Helvetica, sans-serif">Xyl</text><text transform="rotate(0.05 150.08 610.62)" x="150.08" y="610.62" font-size="11.66" stroke="#000" stroke-width="0.28" font-family="Liberation Sans, Arial, Helvetica, sans-serif">Cou</text>
<path d="M108.92 754.49L111.32 744.91M108.43 753.53L98.78 758.56M109.42 755.44L99.77 760.46M108.92 754.49L119.89 759M119.89 759L113.54 772.22M113.07 771.26L103.78 775.82M114.02 773.19L104.73 777.75M113.54 772.22L122.38 778.68M126.19 784.22L128.92 793.4M128.92 793.4L143.86 797.49M123.01 798.13L143.86 797.49M143.86 797.49L156.47 788.14M161.93 788.39L173.96 798.67M155.04 799.63L162.56 803.94M137.09 810.92L128.81 812.97M123.01 798.13L116.98 806.95M173.96 798.67L185.49 795.43M177.19 759.65L188.9 752.87M188.9 752.87L200.51 759.65M200.51 759.65L200.51 773.84M200.51 773.84L188.9 780.61M188.9 780.61L177.19 773.84M177.19 773.84L177.19 759.65M179.23 772.33L179.23 761.15M189.17 755.4L198.18 760.65M198.18 772.83L189.17 778.08M200.51 759.65L209.29 755.14M215.6 755.14L224.38 759.65M224.38 759.65L224.38 773.84M224.38 773.84L212.44 780.61M212.44 780.61L200.51 773.84M222.06 772.8L212.75 778.09M215.67 757.59L222.63 761.16M177.19 759.65L169.23 754.92M188.9 780.61L188.9 790.71M224.38 773.84L233.33 779.64M224.38 759.65L236.74 752.55M236.74 752.55L249.21 759.65M249.21 759.65L261.68 752.55M261.68 752.55L261.68 738.58M261.68 738.58L249.21 731.48M249.21 731.48L236.74 738.58M236.74 738.58L236.74 752.55M239.06 739.61L248.91 734M259.64 740.08L259.64 751.05M248.91 757.13L239.06 751.52M261.68 738.58L268.35 734.71M261.68 752.55L268.35 756.42M236.08 785.22L235.66 791.79M235.66 791.79L219.96 792.84M215.65 796.65L212.12 812.97M212.12 812.97L199.54 827.8M212.12 812.97L200.19 819.85M223.19 806.62L232.88 807.17M218.57 826.19L212.44 834.04M199.54 827.8L200.3 837.91M200.19 819.85L191.38 815.83M239.97 807.38L253.29 807.38M253.29 807.38L260.62 815.03M266.62 817.69L278.56 818.02M278.56 818.02L281.46 834.47M253.29 807.38L253.29 821.46M253.29 821.46L269.85 826.73M269.85 826.73L274.8 834.89M281.46 834.47L290.92 833.71M253.29 821.46L242.85 822.59M237.22 824.92L232.81 833.59M232.55 832.54L222.24 835.04M233.06 834.63L222.75 837.13M232.81 833.59L238.07 842.73M238.07 842.73L251.94 840.58M238.82 840.54L250.57 838.72M251.94 840.58L257.64 854.23M257.64 854.23L271.72 854.34M271.72 854.34L278.6 865.73M278.6 865.73L272.15 877.34M272.15 877.34L257.86 877.12M257.86 877.12L250.76 865.73M250.76 865.73L257.64 854.23M253.29 865.49L258.62 856.57M270.75 856.68L276.08 865.5M270.68 875.28L259.39 875.11M278.6 865.73L288.71 865.73M295.8 865.73L306.12 865.73M272.15 877.34L277.31 885.29M257.86 877.12L253.37 886.01M249.92 892.45L245.17 900.77M185.2 816.33L177.51 821.46M178.1 820.56L170.41 815.44M176.91 822.35L169.22 817.22M177.51 821.46L175.57 833.18M175.57 833.18L184.82 840.92M177.71 832.3L185.3 838.66M184.82 840.92L180.84 853.71M180.84 853.71L190.08 864.57M190.08 864.57L185.03 877.04M185.03 877.04L172.56 879.83M172.56 879.83L162.78 869.62M162.78 869.62L167.19 856.83M167.19 856.83L180.84 853.71M169.11 858.48L179.83 856.03M187.63 865.19L183.7 874.87M173 877.33L165.3 869.29M172.56 879.83L169.57 888.42" stroke="#111" stroke-width="0.97" fill="none" stroke-linecap="round"/>
<path d="M137.09 810.92L155.04 799.63M223.19 806.62L218.57 826.19" stroke="#000" stroke-width="2.47" fill="none" stroke-linecap="round"/>
<polygon points="123.27,797.84 122.74,798.42 136.22,811.88 137.95,809.97" fill="#000"/><polygon points="173.98,799.05 173.94,798.28 154.97,798.35 155.11,800.92" fill="#000"/><polygon points="235.96,792.04 235.37,791.54 222.21,805.79 224.18,807.45" fill="#000"/><polygon points="199.51,827.41 199.58,828.19 218.68,827.47 218.46,824.9" fill="#000"/><polygon points="270,826.5 269.7,826.95 280.95,835.23 281.97,833.7" fill="#000"/>
<text transform="rotate(0.05 115.27 741.16)" x="115.27" y="743.87" font-size="7.58" text-anchor="middle" stroke="#000" stroke-width="0.3" font-family="Liberation Sans, Arial, Helvetica, sans-serif">OH</text><text transform="rotate(0.05 96.13 761.15)" x="96.13" y="763.86" font-size="7.58" text-anchor="middle" stroke="#000" stroke-width="0.3" font-family="Liberation Sans, Arial, Helvetica, sans-serif">O</text><text transform="rotate(0.05 101.08 778.35)" x="101.08" y="781.06" font-size="7.58" text-anchor="middle" stroke="#000" stroke-width="0.3" font-family="Liberation Sans, Arial, Helvetica, sans-serif">O</text><text transform="rotate(0.05 125.16 780.72)" x="125.16" y="783.43" font-size="7.58" text-anchor="middle" stroke="#000" stroke-width="0.3" font-family="Liberation Sans, Arial, Helvetica, sans-serif">O</text><text transform="rotate(0.05 159.23 786.09)" x="159.23" y="788.8" font-size="7.58" text-anchor="middle" stroke="#000" stroke-width="0.3" font-family="Liberation Sans, Arial, Helvetica, sans-serif">O</text><text transform="rotate(0.05 168.48 805.98)" x="168.48" y="808.69" font-size="7.58" text-anchor="middle" stroke="#000" stroke-width="0.3" font-family="Liberation Sans, Arial, Helvetica, sans-serif">OH</text><text transform="rotate(0.05 122.58 813.61)" x="122.58" y="816.32" font-size="7.58" text-anchor="middle" stroke="#000" stroke-width="0.3" font-family="Liberation Sans, Arial, Helvetica, sans-serif">HO</text><text transform="rotate(0.05 111.07 808.99)" x="111.07" y="811.7" font-size="7.58" text-anchor="middle" stroke="#000" stroke-width="0.3" font-family="Liberation Sans, Arial, Helvetica, sans-serif">HO</text><text transform="rotate(0.05 188.9 794.48)" x="188.9" y="797.19" font-size="7.58" text-anchor="middle" stroke="#000" stroke-width="0.3" font-family="Liberation Sans, Arial, Helvetica, sans-serif">O</text><text transform="rotate(0.05 212.44 753.52)" x="212.44" y="756.23" font-size="7.58" text-anchor="middle" stroke="#000" stroke-width="0.3" font-family="Liberation Sans, Arial, Helvetica, sans-serif">O</text><text transform="rotate(0.05 216.42 752.77)" x="216.42" y="752.77" font-size="4.51" stroke="#000" stroke-width="0.2" font-family="Liberation Sans, Arial, Helvetica, sans-serif">+</text><text transform="rotate(0.05 162.56 753.2)" x="162.56" y="755.91" font-size="7.58" text-anchor="middle" stroke="#000" stroke-width="0.3" font-family="Liberation Sans, Arial, Helvetica, sans-serif">HO</text><text transform="rotate(0.05 236.31 781.58)" x="236.31" y="784.29" font-size="7.58" text-anchor="middle" stroke="#000" stroke-width="0.3" font-family="Liberation Sans, Arial, Helvetica, sans-serif">O</text><text transform="rotate(0.05 275.22 732.66)" x="275.22" y="735.38" font-size="7.58" text-anchor="middle" stroke="#000" stroke-width="0.3" font-family="Liberation Sans, Arial, Helvetica, sans-serif">OH</text><text transform="rotate(0.05 275.22 759.75)" x="275.22" y="762.47" font-size="7.58" text-anchor="middle" stroke="#000" stroke-width="0.3" font-family="Liberation Sans, Arial, Helvetica, sans-serif">OH</text><text transform="rotate(0.05 216.42 793.08)" x="216.42" y="795.79" font-size="7.58" text-anchor="middle" stroke="#000" stroke-width="0.3" font-family="Liberation Sans, Arial, Helvetica, sans-serif">O</text><text transform="rotate(0.05 236.42 807.38)" x="236.42" y="810.09" font-size="7.58" text-anchor="middle" stroke="#000" stroke-width="0.3" font-family="Liberation Sans, Arial, Helvetica, sans-serif">O</text><text transform="rotate(0.05 207.82 837.26)" x="207.82" y="839.97" font-size="7.58" text-anchor="middle" stroke="#000" stroke-width="0.3" font-family="Liberation Sans, Arial, Helvetica, sans-serif">HO</text><text transform="rotate(0.05 202.77 841.78)" x="202.77" y="844.49" font-size="7.58" text-anchor="middle" stroke="#000" stroke-width="0.3" font-family="Liberation Sans, Arial, Helvetica, sans-serif">OH</text><text transform="rotate(0.05 188.15 814.36)" x="188.15" y="817.08" font-size="7.58" text-anchor="middle" stroke="#000" stroke-width="0.3" font-family="Liberation Sans, Arial, Helvetica, sans-serif">O</text><text transform="rotate(0.05 263.08 817.59)" x="263.08" y="820.3" font-size="7.58" text-anchor="middle" stroke="#000" stroke-width="0.3" font-family="Liberation Sans, Arial, Helvetica, sans-serif">O</text><text transform="rotate(0.05 277.16 838.44)" x="277.16" y="841.16" font-size="7.58" text-anchor="middle" stroke="#000" stroke-width="0.3" font-family="Liberation Sans, Arial, Helvetica, sans-serif">OH</text><text transform="rotate(0.05 296.94 833.61)" x="296.94" y="836.32" font-size="7.58" text-anchor="middle" stroke="#000" stroke-width="0.3" font-family="Liberation Sans, Arial, Helvetica, sans-serif">OH</text><text transform="rotate(0.05 238.83 821.76)" x="238.83" y="824.48" font-size="7.58" text-anchor="middle" stroke="#000" stroke-width="0.3" font-family="Liberation Sans, Arial, Helvetica, sans-serif">O</text><text transform="rotate(0.05 219.05 836.92)" x="219.05" y="839.63" font-size="7.58" text-anchor="middle" stroke="#000" stroke-width="0.3" font-family="Liberation Sans, Arial, Helvetica, sans-serif">O</text><text transform="rotate(0.05 292.25 865.73)" x="292.25" y="868.44" font-size="7.58" text-anchor="middle" stroke="#000" stroke-width="0.3" font-family="Liberation Sans, Arial, Helvetica, sans-serif">O</text><text transform="rotate(0.05 280.97 889.38)" x="280.97" y="892.09" font-size="7.58" text-anchor="middle" stroke="#000" stroke-width="0.3" font-family="Liberation Sans, Arial, Helvetica, sans-serif">OH</text><text transform="rotate(0.05 251.73 889.27)" x="251.73" y="891.99" font-size="7.58" text-anchor="middle" stroke="#000" stroke-width="0.3" font-family="Liberation Sans, Arial, Helvetica, sans-serif">O</text><text transform="rotate(0.05 236.32 855.19)" x="236.32" y="855.19" font-size="11.29" stroke="#000" stroke-width="0.28" font-family="Liberation Sans, Arial, Helvetica, sans-serif">Sin</text><text transform="rotate(0.05 166.86 814.36)" x="166.86" y="817.08" font-size="7.58" text-anchor="middle" stroke="#000" stroke-width="0.3" font-family="Liberation Sans, Arial, Helvetica, sans-serif">O</text><text transform="rotate(0.05 165.57 892.41)" x="165.57" y="895.12" font-size="7.58" text-anchor="middle" stroke="#000" stroke-width="0.3" font-family="Liberation Sans, Arial, Helvetica, sans-serif">HO</text><text transform="rotate(0.05 201.4 744.6)" x="201.4" y="744.6" font-size="13.3" font-weight="bold" stroke="#000" stroke-width="0.15" font-family="Liberation Sans, Arial, Helvetica, sans-serif">A9*</text><text transform="rotate(0.05 124.4 759)" x="124.4" y="759" font-size="11.29" stroke="#000" stroke-width="0.28" font-family="Liberation Sans, Arial, Helvetica, sans-serif">Mal</text><text transform="rotate(0.05 133.86 789.42)" x="133.86" y="789.42" font-size="11.29" stroke="#000" stroke-width="0.28" font-family="Liberation Sans, Arial, Helvetica, sans-serif">Glc</text><text transform="rotate(0.05 193.6 811.27)" x="193.6" y="811.27" font-size="11.29" stroke="#000" stroke-width="0.28" font-family="Liberation Sans, Arial, Helvetica, sans-serif">Glc</text><text transform="rotate(0.05 265.34 812.1)" x="265.34" y="812.1" font-size="10.86" stroke="#000" stroke-width="0.28" font-family="Liberation Sans, Arial, Helvetica, sans-serif">Xyl</text><text transform="rotate(0.05 159.58 845.75)" x="159.58" y="845.75" font-size="11.29" stroke="#000" stroke-width="0.28" font-family="Liberation Sans, Arial, Helvetica, sans-serif">Cou</text>
</svg>
</body></html>
